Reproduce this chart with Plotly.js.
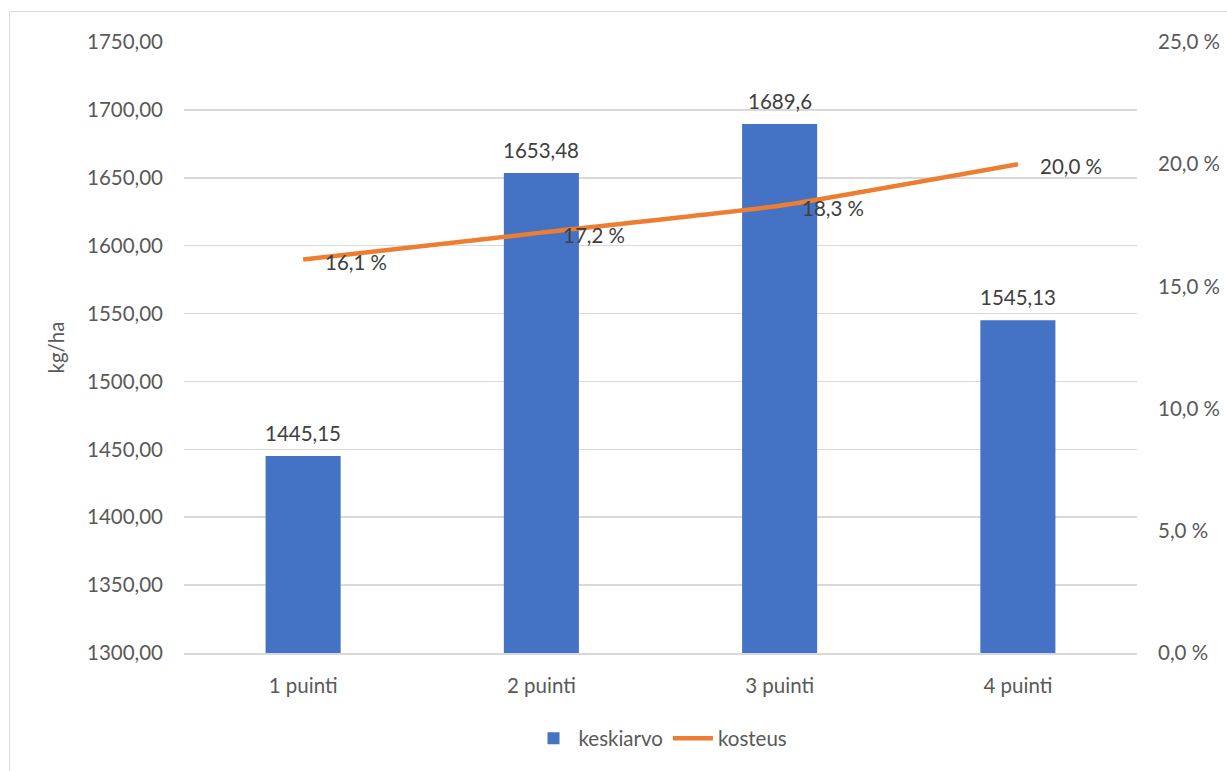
<!DOCTYPE html>
<html>
<head>
<meta charset="utf-8">
<script src="https://cdn.plot.ly/plotly-3.0.1.min.js"></script>
<style>
html,body{margin:0;padding:0;background:#fff;overflow:hidden;}
#frame{position:absolute;left:9px;top:11px;width:1300px;height:900px;border:1px solid #d9d9d9;box-sizing:border-box;}
#chart{position:absolute;left:0;top:0;width:1227px;height:771px;}
</style>
</head>
<body>
<div id="frame"></div>
<div id="chart"></div>
<script>
const categories = ["1 puinti", "2 puinti", "3 puinti", "4 puinti"];
const keskiarvo = [1445.15, 1653.48, 1689.6, 1545.13];
const kosteus = [16.1, 17.2, 18.3, 20.0];
const leftTicks = [1300, 1350, 1400, 1450, 1500, 1550, 1600, 1650, 1700, 1750];
const rightTicks = [0, 5, 10, 15, 20, 25];

const txtColor = "#595959";
const fontFam = "Lato, 'Open Sans', sans-serif";
const fs = 20.5;

const barTrace = {
  type: "bar",
  name: "keskiarvo",
  x: categories,
  y: keskiarvo,
  marker: {color: "#4472c4"},
  width: 0.315,
  yaxis: "y",
  hoverinfo: "x+y"
};
const lineTrace = {
  type: "scatter",
  mode: "lines",
  name: "kosteus",
  x: categories,
  y: kosteus,
  yaxis: "y2",
  line: {color: "#ed7d31", width: 4.5, shape: "spline", smoothing: 0.4},
  hoverinfo: "x+y"
};

const annotations = [];
categories.forEach((c, i) => {
  annotations.push({
    x: c, y: keskiarvo[i], xref: "x", yref: "y",
    text: String(keskiarvo[i]).replace(".", ","),
    showarrow: false, yanchor: "bottom", yshift: 9,
    font: {family: fontFam, size: fs, color: "#404040"}
  });
  annotations.push({
    x: c, y: kosteus[i], xref: "x", yref: "y2",
    text: kosteus[i].toFixed(1).replace(".", ",") + " %",
    showarrow: false, xanchor: "left", yanchor: "middle", xshift: 20, yshift: -2,
    font: {family: fontFam, size: fs, color: "#404040"}
  });
});

const layout = {
  width: 1227, height: 771,
  margin: {l: 184, r: 90, t: 42, b: 116},
  paper_bgcolor: "rgba(0,0,0,0)",
  plot_bgcolor: "rgba(0,0,0,0)",
  separators: ", ",
  font: {family: fontFam, size: fs, color: txtColor},
  showlegend: true,
  legend: {orientation: "h", x: 0.5, xanchor: "center", y: -0.14, yanchor: "middle",
           font: {family: fontFam, size: fs, color: txtColor}, itemwidth: 40},
  bargap: 0.685,
  xaxis: {
    type: "category",
    showgrid: false,
    showline: true, linecolor: "#d9d9d9", linewidth: 1.5,
    ticks: "", ticklabelstandoff: 14,
    tickfont: {family: fontFam, size: fs, color: txtColor}
  },
  yaxis: {
    range: [1300, 1750],
    tickvals: leftTicks,
    tickformat: ".2f",
    showgrid: true, gridcolor: "#d9d9d9", gridwidth: 1.5,
    zeroline: false, showline: false,
    ticks: "", ticklabelstandoff: 20,
    tickfont: {family: fontFam, size: fs, color: txtColor},
    title: {text: "kg/ha", font: {family: fontFam, size: fs, color: txtColor}, standoff: 16}
  },
  yaxis2: {
    overlaying: "y", side: "right",
    range: [0, 25],
    tickvals: rightTicks,
    ticktext: rightTicks.map(v => v.toFixed(1).replace(".", ",") + " %"),
    showgrid: false, zeroline: false, showline: false,
    ticks: "", ticklabelstandoff: 20,
    tickfont: {family: fontFam, size: fs, color: txtColor}
  },
  annotations: annotations
};

Plotly.newPlot("chart", [barTrace, lineTrace], layout, {displayModeBar: false, staticPlot: true});
</script>
</body>
</html>
